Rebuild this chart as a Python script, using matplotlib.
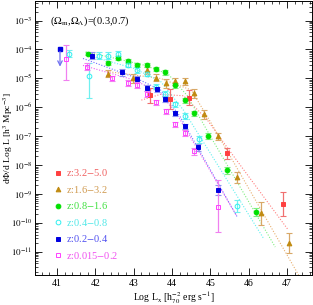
import matplotlib
matplotlib.use("Agg")
import matplotlib.pyplot as plt
from matplotlib.ticker import MultipleLocator, LogLocator, NullFormatter, FixedLocator
import numpy as np

plt.rcParams['font.family'] = ['Liberation Serif', 'DejaVu Serif']
plt.rcParams['mathtext.fontset'] = 'stix'

# -----------------------------
# Data (log L, log phi, errors in dex)
# -----------------------------
red_x = [43.43, 43.95, 44.45, 45.44, 46.90]
red_y = [-5.59, -5.72, -5.66, -7.59, -9.34]
red_lo = [0.26, 0.35, 0.26, 0.2, 0.4]
red_hi = [0.26, 0.35, 0.26, 0.2, 0.4]

brown_x = [42.33, 42.98, 43.35, 43.58, 43.84, 44.08, 44.34, 44.58, 44.84, 45.20, 45.70, 46.33, 47.06]
brown_y = [-4.83, -5.00, -4.72, -4.97, -5.17, -5.10, -5.10, -5.52, -6.24, -7.00, -8.41, -9.66, -10.69]
brown_lo = [0.12, 0.15, 0.12, 0.12, 0.15, 0.12, 0.12, 0.15, 0.15, 0.12, 0.19, 0.4, 0.33]
brown_hi = [0.12, 0.15, 0.12, 0.12, 0.15, 0.12, 0.12, 0.15, 0.15, 0.12, 0.19, 0.4, 0.33]

green_x = [41.81, 42.33, 42.59, 42.85, 43.09, 43.35, 43.58, 43.82, 44.08, 44.34, 44.58, 44.94, 45.44, 46.20]
green_y = [-4.14, -4.48, -4.28, -4.41, -4.55, -4.55, -4.66, -4.79, -5.24, -5.76, -6.21, -7.00, -8.17, -9.62]
green_lo = [0.06, 0.07, 0.07, 0.07, 0.07, 0.07, 0.07, 0.08, 0.08, 0.08, 0.08, 0.1, 0.12, 0.15]
green_hi = [0.06, 0.07, 0.07, 0.07, 0.07, 0.07, 0.07, 0.08, 0.08, 0.08, 0.08, 0.1, 0.12, 0.15]

cyan_x = [41.31, 41.84, 42.10, 42.33, 42.59, 42.85, 43.09, 43.35, 43.58, 43.82, 44.08, 44.34, 44.71, 45.70]
cyan_y = [-4.14, -4.93, -4.21, -4.21, -4.14, -4.52, -4.72, -4.83, -5.28, -5.55, -5.90, -6.31, -7.10, -9.41]
cyan_lo = [0.12, 0.76, 0.12, 0.12, 0.1, 0.1, 0.1, 0.1, 0.1, 0.1, 0.1, 0.1, 0.12, 0.2]
cyan_hi = [0.12, 0.48, 0.12, 0.12, 0.1, 0.1, 0.1, 0.1, 0.1, 0.1, 0.1, 0.1, 0.12, 0.2]

blue_x = [41.91, 42.70, 43.09, 43.35, 43.61, 43.82, 44.08, 44.34, 44.68, 45.20]
blue_y = [-4.21, -4.79, -5.03, -5.34, -5.38, -5.72, -6.21, -6.66, -7.38, -8.86]
blue_lo = [0.12, 0.12, 0.1, 0.1, 0.1, 0.1, 0.1, 0.1, 0.12, 0.18]
blue_hi = [0.12, 0.12, 0.1, 0.1, 0.1, 0.1, 0.1, 0.1, 0.12, 0.18]
blue_lim_x, blue_lim_y, blue_lim_to = 41.08, -3.97, -4.69

mag_x = [41.23, 41.78, 42.44, 42.85, 43.09, 43.35, 43.58, 43.85, 44.08, 44.34, 44.58, 45.20]
mag_y = [-4.34, -4.59, -5.00, -5.17, -5.24, -5.55, -5.83, -6.14, -6.59, -6.90, -7.52, -9.45]
mag_lo = [0.72, 0.12, 0.1, 0.1, 0.1, 0.1, 0.1, 0.1, 0.1, 0.1, 0.12, 0.86]
mag_hi = [0.48, 0.12, 0.1, 0.1, 0.1, 0.1, 0.1, 0.1, 0.1, 0.1, 0.12, 0.93]

# model curves (dotted), vertices
red_mx = [43.2, 43.7, 44.3, 44.9, 45.5, 47.03]
red_my = [-5.75, -5.55, -5.6, -6.4, -7.5, -10.24]
brown_mx = [42.3, 43.0, 43.7, 44.5, 45.0, 47.3]
brown_my = [-4.76, -4.88, -5.0, -5.4, -6.5, -11.8]
green_mx = [41.75, 42.5, 43.3, 43.9, 44.4, 45.0, 46.69]
green_my = [-4.08, -4.3, -4.55, -4.85, -5.6, -7.0, -10.83]
cyan_mx = [41.8, 43.0, 43.7, 44.3, 46.38]
cyan_my = [-4.2, -4.65, -5.1, -6.1, -10.52]
blue_mx = [41.68, 43.0, 43.7, 44.2, 45.70]
blue_my = [-4.31, -4.95, -5.4, -6.3, -9.79]
mag_mx = [41.68, 43.0, 43.7, 44.2, 45.67]
mag_my = [-4.55, -5.05, -5.5, -6.4, -9.72]

labels = ['z:3.2$-$5.0', 'z:1.6$-$3.2', 'z:0.8$-$1.6', 'z:0.4$-$0.8', 'z:0.2$-$0.4', 'z:0.015$-$0.2']

series = [
    (red_x, red_y, red_lo, red_hi, red_mx, red_my, 's', '#ff4040', '#ff4040', '#f07070', '#ff8080', '#f06060'),
    (brown_x, brown_y, brown_lo, brown_hi, brown_mx, brown_my, '^', '#c08a10', '#c08a10', '#d8a868', '#e8b070', '#d09a50'),
    (green_x, green_y, green_lo, green_hi, green_mx, green_my, 'o', '#00e000', '#00e000', '#80f080', '#80f080', '#40e040'),
    (cyan_x, cyan_y, cyan_lo, cyan_hi, cyan_mx, cyan_my, 'o', 'none', '#30f0f0', '#70f0f0', '#60f0f0', '#50e8e8'),
    (blue_x, blue_y, blue_lo, blue_hi, blue_mx, blue_my, 's', '#0000e0', '#0000e0', '#9090f0', '#7070ff', '#5050f0'),
    (mag_x, mag_y, mag_lo, mag_hi, mag_mx, mag_my, 's', 'none', '#ff40ff', '#f080f0', '#f060f0', '#f050f0'),
]

fig = plt.figure(figsize=(3.13, 3.05), dpi=100)
ax = fig.add_axes([0.112, 0.098, 0.885, 0.9])

for i, (x, y, lo, hi, mx, my, mk, fc, ec, errc, linec, txtc) in enumerate(series):
    yy = 10.0 ** np.array(y)
    ylo = yy - 10.0 ** (np.array(y) - np.array(lo))
    yhi = 10.0 ** (np.array(y) + np.array(hi)) - yy
    ax.plot(mx, 10.0 ** np.array(my), ls=(0, (1, 1.5)), color=linec, lw=0.8, zorder=1)
    ax.errorbar(x, yy, yerr=[ylo, yhi], fmt='none', ecolor=errc, elinewidth=0.9,
                capsize=2.0, capthick=0.8, zorder=2)
    ms = 3.0 if mk == 's' else 3.4
    ax.plot(x, yy, ls='none', marker=mk, ms=ms, mfc=fc, mec=ec, mew=0.7, zorder=3)
    # legend entry drawn as text
    ly = 0.373 - i * 0.06
    ax.plot([0.083], [ly], transform=ax.transAxes, ls='none', marker=mk, ms=ms,
            mfc=fc, mec=ec, mew=0.7, clip_on=False)
    ax.text(0.112, ly, labels[i], transform=ax.transAxes, color=txtc,
            fontsize=7.5, va='center', ha='left')

# upper limit (blue)
ax.plot([blue_lim_x], [10 ** blue_lim_y], ls='none', marker='s', ms=3, mfc='#0000e0', mec='#0000e0')
ax.annotate('', xy=(blue_lim_x, 10 ** blue_lim_to), xytext=(blue_lim_x, 10 ** blue_lim_y),
            arrowprops=dict(arrowstyle='->', color='#7070f0', lw=0.9, mutation_scale=8))

ax.set_yscale('log')
ax.set_xlim(40.43, 47.65)
ax.set_ylim(10 ** -11.8, 10 ** -2.31)

ax.xaxis.set_major_locator(MultipleLocator(1))
ax.xaxis.set_minor_locator(MultipleLocator(0.2))
ax.yaxis.set_major_locator(FixedLocator([10.0 ** k for k in range(-11, -2)]))
ax.yaxis.set_minor_locator(LogLocator(base=10, subs=np.arange(2, 10), numticks=20))
ax.yaxis.set_minor_formatter(NullFormatter())
ax.set_yticklabels(['$10^{%d}$' % k for k in range(-11, -2)])

ax.tick_params(which='both', direction='in', top=True, right=True, labelsize=7, pad=2.5)
ax.tick_params(axis='y', labelsize=6.5, pad=2)
ax.tick_params(which='major', length=5, width=0.6)
ax.tick_params(which='minor', length=2.5, width=0.5)
for s in ax.spines.values():
    s.set_linewidth(0.7)

ax.set_xlabel(r'Log L$_{\rm x}$ [h$_{70}^{-2}$ erg s$^{-1}$]', fontsize=7, labelpad=1)
ax.set_ylabel(r'd$\Phi$/d Log L [h$^3$ Mpc$^{-3}$]', fontsize=6.8, va='top')
ax.yaxis.set_label_coords(-0.119, 0.5)
ax.text(0.055, 0.925, r'($\Omega_{\rm m}$,$\Omega_\Lambda$)=(0.3,0.7)', transform=ax.transAxes,
        fontsize=7.5, ha='left', va='center')

fig.savefig('out.png', dpi=100)
